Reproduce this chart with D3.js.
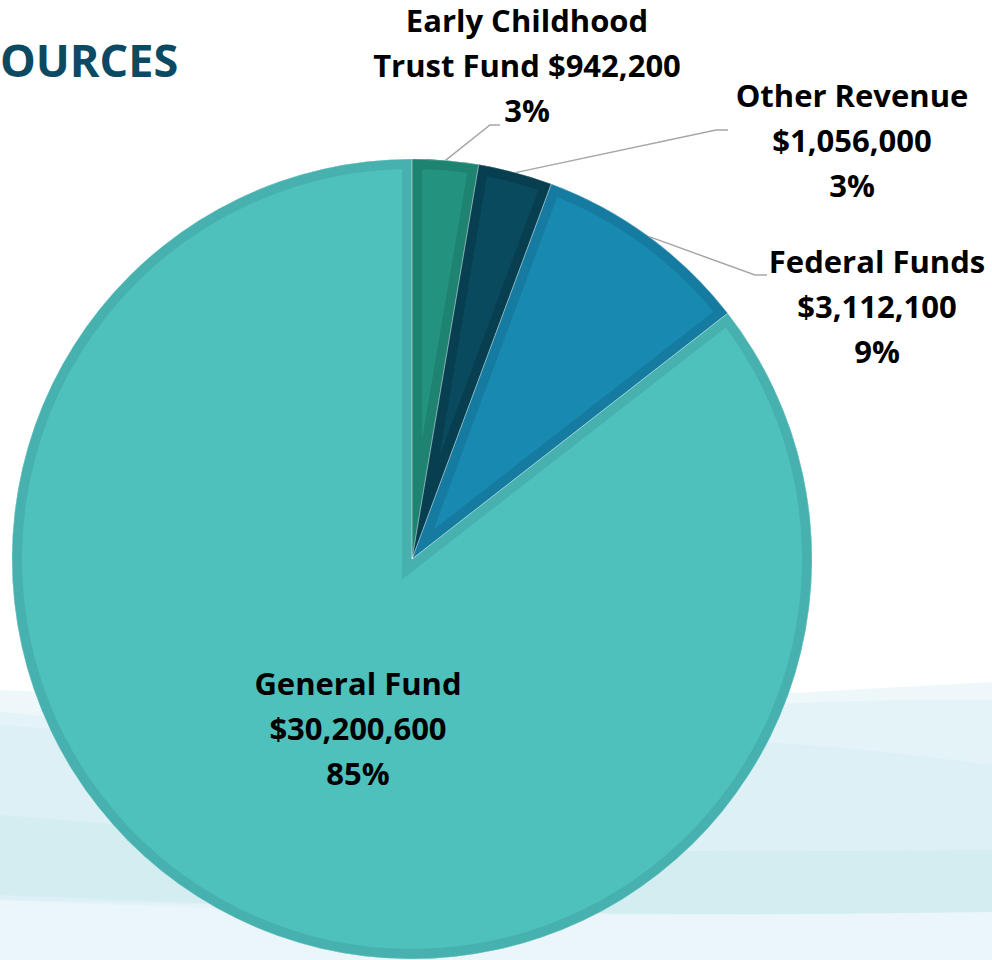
<!DOCTYPE html>
<html><head><meta charset="utf-8">
<script src="https://cdn.jsdelivr.net/npm/d3@7"></script>
<style>html,body{margin:0;padding:0;background:#fff;overflow:hidden}</style>
</head><body>
<svg id="chart" width="992" height="960"></svg>
<script>
// ---- data ----
const categories = ["Early Childhood Trust Fund", "Other Revenue", "Federal Funds", "General Fund"];
const values = [942200, 1056000, 3112100, 30200600];
const percentLabels = ["3%", "3%", "9%", "85%"];
const nameLines = [["Early Childhood", "Trust Fund"], ["Other Revenue"], ["Federal Funds"], ["General Fund"]];
const valueOnNameLine = [true, false, false, false];
const titleText = "OURCES";

// ---- layout / style ----
const W = 992, H = 960, cx = 412, cy = 559, R = 400;
const fills = ["#23927f", "#0a4a5f", "#1889b1", "#4fc1bd"];
const borders = ["#1e8371", "#073f51", "#167ba0", "#46b1ae"];
const labelLayout = [
  {x: 527, y: 32, elbow: [490, 125], end: [500, 125]},
  {x: 852, y: 107, elbow: [716, 130], end: [728, 130]},
  {x: 877, y: 273, elbow: [755, 275], end: [767, 275]},
  {x: 358, y: 695, elbow: null, end: null}
];
const lineH = 45;
const FONT = "'Open Sans', Lato, sans-serif";
const fmt = d3.format("$,");

const svg = d3.select("#chart");
const defs = svg.append("defs");

// ---- background waves ----
const bg = svg.append("g");
const curve = d3.area().curve(d3.curveBasis).x(d => d[0]).y0(d => d[2]).y1(d => d[1]);
const waves = [
  {pts: [[0,690,960],[250,700,960],[500,712,960],[750,695,960],[992,682,960]], c: "#eef8fb"},
  {pts: [[0,712,960],[250,735,960],[500,735,960],[750,700,960],[992,700,960]], c: "#e4f3f7"},
  {pts: [[0,725,900],[250,745,905],[500,745,910],[750,735,915],[992,765,915]], c: "#dcf0f5"},
  {pts: [[0,815,895],[250,835,905],[500,850,912],[750,852,915],[992,850,915]], c: "#d4edf1"},
  {pts: [[0,900,960],[250,910,960],[500,915,960],[750,915,960],[992,912,960]], c: "#eaf6fa"}
];
waves.forEach(w => bg.append("path").attr("d", curve(w.pts)).attr("fill", w.c));

// ---- title (only the visible part of the cropped title) ----
svg.append("text").attr("x", 0).attr("y", 77).attr("text-anchor", "start")
  .attr("font-family", FONT).attr("font-weight", 700)
  .attr("font-size", 45).attr("fill", "#0b4a62").text(titleText);

// ---- pie ----
const pie = d3.pie().sort(null).value(d => d).startAngle(0).endAngle(2 * Math.PI);
const arcs = pie(values);
const arc = d3.arc().innerRadius(0).outerRadius(R);
const g = svg.append("g").attr("transform", `translate(${cx},${cy})`);

arcs.forEach((a, i) => {
  defs.append("clipPath").attr("id", "clip" + i).append("path").attr("d", arc(a));
});
g.selectAll("path.slice").data(arcs).join("path").attr("class", "slice")
  .attr("d", arc).attr("fill", (d, i) => fills[i]);
g.selectAll("path.border").data(arcs).join("path").attr("class", "border")
  .attr("d", arc).attr("fill", "none").attr("stroke", (d, i) => borders[i])
  .attr("stroke-width", 20).attr("stroke-linejoin", "miter")
  .attr("clip-path", (d, i) => `url(#clip${i})`);
g.selectAll("path.sep").data(arcs).join("path").attr("class", "sep")
  .attr("d", arc).attr("fill", "none").attr("stroke", "rgba(255,255,255,0.35)").attr("stroke-width", 0.8);

// ---- leaders ----
arcs.forEach((a, i) => {
  const L = labelLayout[i];
  if (!L.elbow) return;
  const mid = (a.startAngle + a.endAngle) / 2;
  const sx = cx + R * Math.sin(mid), sy = cy - R * Math.cos(mid);
  svg.append("path").attr("d", d3.line()([[sx, sy], L.elbow, L.end]))
    .attr("fill", "none").attr("stroke", "#a6a6a6").attr("stroke-width", 1.5);
});

// ---- labels ----
arcs.forEach((a, i) => {
  const L = labelLayout[i];
  const lines = nameLines[i].slice();
  if (valueOnNameLine[i]) lines[lines.length - 1] += " " + fmt(values[i]);
  else lines.push(fmt(values[i]));
  lines.push(percentLabels[i]);
  const t = svg.append("text").attr("text-anchor", "middle")
    .attr("font-family", FONT).attr("font-weight", 700)
    .attr("font-size", 31).attr("fill", "#000");
  lines.forEach((s, k) => t.append("tspan").attr("x", L.x).attr("y", L.y + k * lineH).text(s));
});
</script>
</body></html>
